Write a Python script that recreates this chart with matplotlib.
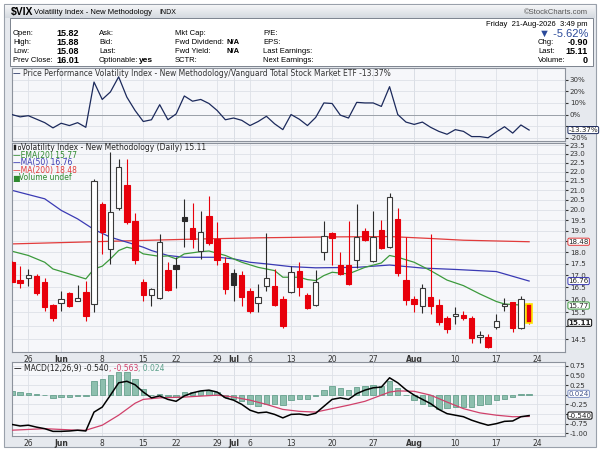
import numpy as np
import matplotlib
matplotlib.use('Agg')
import matplotlib.pyplot as plt
from matplotlib.patches import Rectangle
from matplotlib.ticker import FixedLocator, NullLocator, FuncFormatter
from matplotlib.colors import LinearSegmentedColormap

# trading-day index: 0 = Tue 26-May-2026, 61 = Fri 21-Aug-2026
day = np.arange(-2, 62)

opens = [17.56, 16.82, 16.90, 16.99, 16.74, 15.79, 15.86, 16.26, 15.96, 16.30,
         15.83, 20.31, 18.15, 20.09, 21.26, 19.48, 16.74, 16.17, 16.06, 17.23,
         17.46, 19.64, 19.13, 18.08, 19.69, 18.61, 17.53, 17.10, 17.03, 16.37,
         15.86, 16.54, 16.57, 16.03, 16.30, 17.20, 16.17, 15.80, 18.00, 18.89,
         17.46, 17.42, 17.64, 18.96, 17.61, 19.05, 18.23, 19.56, 16.82, 16.03,
         15.74, 16.12, 15.80, 15.27, 15.38, 15.40, 15.27, 14.60, 14.60, 14.96,
         15.76, 15.90, 14.90, 15.82]
highs = [17.62, 17.39, 17.26, 17.04, 16.87, 15.83, 16.33, 16.30, 16.60, 16.78,
         21.58, 20.39, 23.09, 22.71, 22.71, 19.86, 16.85, 16.46, 18.85, 17.56,
         17.78, 20.53, 20.34, 19.94, 20.73, 19.40, 17.78, 17.27, 17.20, 16.47,
         16.64, 18.89, 17.27, 16.14, 17.39, 17.56, 16.27, 17.23, 19.48, 18.93,
         18.00, 19.48, 20.30, 19.11, 19.94, 19.53, 20.87, 20.11, 18.69, 16.14,
         16.64, 18.85, 16.03, 15.38, 15.73, 15.57, 15.38, 14.81, 14.69, 15.46,
         16.07, 15.92, 16.14, 15.88]
lows = [16.70, 16.47, 16.54, 16.18, 15.57, 15.16, 15.54, 15.70, 15.93, 15.16,
        15.53, 17.93, 17.49, 20.00, 19.32, 17.49, 15.93, 15.77, 16.03, 16.34,
        16.46, 18.23, 18.19, 17.71, 18.33, 17.44, 16.23, 15.96, 15.76, 15.47,
        15.50, 16.34, 15.74, 14.91, 16.26, 16.14, 15.62, 15.76, 17.68, 17.42,
        17.00, 16.58, 17.32, 18.50, 17.56, 18.15, 18.19, 16.99, 15.80, 15.50,
        15.48, 15.44, 15.02, 14.73, 15.06, 15.22, 14.37, 14.37, 14.18, 14.88,
        15.57, 14.78, 14.86, 15.08]
closes = [16.74, 16.68, 17.01, 16.27, 15.73, 15.29, 16.03, 15.74, 16.07, 15.38,
          21.47, 18.93, 19.89, 22.23, 19.40, 17.66, 16.17, 16.43, 18.46, 16.39,
          17.25, 19.48, 18.61, 18.93, 18.43, 17.66, 16.43, 16.60, 16.12, 15.54,
          16.12, 16.89, 15.80, 15.00, 17.13, 16.50, 15.67, 16.71, 18.74, 18.64,
          17.06, 16.64, 18.69, 18.56, 18.69, 18.19, 20.65, 17.09, 16.00, 15.83,
          16.47, 15.76, 15.12, 14.88, 15.44, 15.27, 14.53, 14.65, 14.23, 15.16,
          15.83, 14.90, 16.01, 15.11]
close_before = 17.35

tick_days = [0, 4, 9, 14, 18, 23, 25, 27, 32, 37, 42, 47, 52, 57, 62]
tick_labels = ['26', 'Jun', '8', '15', '22', '29', 'Jul', '6', '13', '20', '27',
               'Aug', '10', '17', '24']
months = ['Jun', 'Jul', 'Aug']

# price performance vs VTI, %
perf = [0, -2, -1, -4, -7, -11.5, -7.5, -9.5, -7, -11,
        28, 13, 19.5, 32.5, 15, 3.5, -6, -4.5, 8.5, -4.5,
        0.5, 16, 11.5, 13, 9.5, 3.5, -4.5, -3, -5, -9.5,
        -6, -1.5, -8, -13, 0, -4, -9.5, -2.5, 10, 9.5,
        -0.5, -3, 10.5, 10, 10, 7, 24, 0, -6.5, -8.5,
        -6.5, -11, -14.5, -17, -13, -14.5, -19, -19, -20, -15,
        -10.5, -16, -9, -13.37]

ema20_day = [-2, 0, 2, 3, 5, 7, 8, 9, 10, 11, 12, 13, 14, 16, 17, 18, 19, 21, 22,
             24, 26, 28, 30, 31, 33, 34, 35, 36, 37, 39, 41, 43, 44, 45, 47, 49,
             51, 53, 55, 57, 58, 61]
ema20 = [18.05, 17.86, 17.56, 17.27, 17.06, 16.85, 17.27, 17.39, 17.71, 18.08,
         18.23, 18.15, 17.93, 17.82, 17.84, 17.71, 17.93, 18.03, 18.06, 17.86,
         17.56, 17.34, 17.20, 16.92, 16.92, 16.82, 16.78, 16.99, 17.13, 17.06,
         17.34, 17.53, 17.86, 17.78, 17.56, 17.20, 16.80, 16.57, 16.23, 15.93,
         15.83, 15.77]
ma50_day = [-2, 2, 4, 6, 8, 10, 12, 14, 15, 17, 19, 23, 25, 27, 29, 32, 35, 40,
            44, 48, 52, 57, 61]
ma50 = [21.0, 20.56, 19.98, 19.56, 19.05, 18.69, 18.46, 18.23, 18.08, 17.86,
        17.78, 17.78, 17.71, 17.56, 17.49, 17.37, 17.32, 17.34, 17.44, 17.31,
        17.25, 17.16, 16.76]
ma200_day = [-2, 5, 12, 20, 28, 36, 44, 49, 53, 61]
ma200 = [18.38, 18.45, 18.52, 18.60, 18.66, 18.70, 18.72, 18.63, 18.55, 18.48]

macd = [-0.77, -0.81, -0.79, -0.84, -0.88, -0.95, -0.95, -0.94, -0.92, -0.94,
        -0.45, -0.32, -0.01, 0.31, 0.35, 0.26, 0.07, -0.08, -0.03, -0.12,
        -0.17, -0.03, 0.05, 0.10, 0.12, 0.07, -0.08, -0.14, -0.25, -0.40,
        -0.47, -0.45, -0.51, -0.60, -0.51, -0.50, -0.53, -0.48, -0.30, -0.12,
        -0.08, -0.12, 0.03, 0.12, 0.18, 0.20, 0.44, 0.31, 0.13, -0.01,
        -0.12, -0.23, -0.38, -0.49, -0.53, -0.57, -0.66, -0.73, -0.79, -0.75,
        -0.69, -0.68, -0.57, -0.54]
signal_day = [-2, 0, 2, 4, 6, 7, 9, 11, 13, 14, 16, 19, 23, 25, 27, 29, 31, 33,
              35, 37, 39, 41, 43, 44, 45, 47, 49, 51, 53, 55, 57, 59, 61]
signal = [-0.92, -0.90, -0.88, -0.90, -0.92, -0.92, -0.79, -0.53, -0.22, -0.12,
          -0.08, -0.06, -0.01, -0.06, -0.14, -0.25, -0.38, -0.43, -0.45, -0.36,
          -0.27, -0.17, -0.01, 0.07, 0.10, 0.09, -0.01, -0.19, -0.36, -0.47,
          -0.53, -0.57, -0.563]
hist = [0.10, 0.07, 0.05, 0.02, -0.01, -0.08, -0.07, -0.06, -0.04, -0.03,
        0.36, 0.42, 0.50, 0.59, 0.59, 0.40, 0.16, -0.01, 0.03, -0.04,
        -0.06, 0.06, 0.07, 0.09, 0.10, 0.06, -0.06, -0.10, -0.17, -0.25,
        -0.29, -0.23, -0.23, -0.27, -0.14, -0.11, -0.12, -0.04, 0.13, 0.23,
        0.18, 0.13, 0.20, 0.23, 0.25, 0.23, 0.35, 0.18, -0.01, -0.14,
        -0.23, -0.30, -0.36, -0.34, -0.32, -0.32, -0.32, -0.27, -0.25, -0.14,
        -0.10, -0.07, 0.01, 0.024]

quote_left = [('Open:', '15.82'), ('High:', '15.88'), ('Low:', '15.08'), ('Prev Close:', '16.01')]
quote_mid1 = [('Ask:', ''), ('Bid:', ''), ('Last:', ''), ('Optionable:', 'yes')]
quote_mid2 = [('Mkt Cap:', ''), ('Fwd Dividend:', 'N/A'), ('Fwd Yield:', 'N/A'), ('SCTR:', '')]
quote_mid3 = ['P/E:', 'EPS:', 'Last Earnings:', 'Next Earnings:']
quote_right = [('Chg:', '-0.90'), ('Last:', '15.11'), ('Volume:', '0')]

W, H = 600, 450
def fx(x):
    return x / W
def fy(y):
    return 1 - y / H

RED = '#e8000b'
BLK = '#2a2a2a'
GRID = '#dde1e7'
BW = 0.66
XLIM = (-1.99, 65.37)
HF = ['Liberation Sans', 'DejaVu Sans']
FS = 5.5
YFS = 5.1

fig = plt.figure(figsize=(6, 4.5), dpi=100)
fig.patch.set_facecolor('white')
fig.patches.append(Rectangle((fx(4), fy(447)), 592 / W, 443 / H, transform=fig.transFigure,
                             fc='#e6e9ee', ec='#9aa1ab', lw=0.8, zorder=-5))

# header
hdr = fig.add_axes([fx(5), fy(18), 590 / W, 13 / H])
hdr.imshow(np.linspace(0, 1, 20).reshape(-1, 1), aspect='auto', extent=[0, 1, 0, 1],
           cmap=LinearSegmentedColormap.from_list('h', ['#f4f5f7', '#d5dae0']))
hdr.axis('off')
fig.patches.append(Rectangle((fx(10), fy(66)), 583 / W, 48 / H, transform=fig.transFigure,
                             fc='white', ec='#7c838e', lw=0.7, zorder=1))
fig.text(fx(11), fy(12), '$VIX', fontsize=7.5, fontweight='bold', family=HF, va='center')
fig.text(fx(34), fy(12.5), 'Volatility Index - New Methodology', fontsize=5.5, family=HF, va='center')
fig.text(fx(159), fy(12.5), 'INDX', fontsize=5, family=HF, va='center')
fig.text(fx(588), fy(12.5), '\u00a9StockCharts.com', fontsize=5.5, family=HF, va='center',
         ha='right', color='#555555')
fig.text(fx(588), fy(24), 'Friday  21-Aug-2026  3:49 pm', fontsize=5.5, family=HF,
         va='center', ha='right')
rows = [33.5, 42.5, 51.5, 60.5]
for r, (lab, val) in zip(rows, quote_left):
    fig.text(fx(13), fy(r), lab, fontsize=5.5, family=HF, va='center')
    fig.text(fx(79), fy(r), val, fontsize=6.5, family=HF, va='center', ha='right', fontweight='bold')
for r, (lab, val) in zip(rows, quote_mid1):
    fig.text(fx(99), fy(r), lab, fontsize=5.5, family=HF, va='center')
    fig.text(fx(139), fy(r), val, fontsize=6, family=HF, va='center', fontweight='bold')
for r, (lab, val) in zip(rows, quote_mid2):
    fig.text(fx(175), fy(r), lab, fontsize=5.5, family=HF, va='center')
    fig.text(fx(240), fy(r), val, fontsize=5.5, family=HF, va='center', ha='right', fontweight='bold')
for r, lab in zip(rows, quote_mid3):
    fig.text(fx(263), fy(r), lab, fontsize=5.5, family=HF, va='center')
fig.text(fx(588), fy(33.5), '\u25bc -5.62%', fontsize=8, family=HF, va='center', ha='right',
         color='#2b4a9a')
for r, (lab, val) in zip(rows[1:], quote_right):
    fig.text(fx(538), fy(r), lab, fontsize=5.5, family=HF, va='center')
    fig.text(fx(588), fy(r), val, fontsize=6.5, family=HF, va='center', ha='right', fontweight='bold')

# panels
ax1 = fig.add_axes([fx(12), fy(141), 553 / W, 73 / H])
ax2 = fig.add_axes([fx(12), fy(352), 553 / W, 209 / H])
ax3 = fig.add_axes([fx(12), fy(436), 553 / W, 74 / H])

for ax in (ax1, ax2, ax3):
    ax.set_zorder(3)
    ax.set_facecolor('#f6f7fa')
    ax.set_xlim(*XLIM)
    ax.set_xticks(tick_days)
    ax.grid(True, color=GRID, lw=0.6, zorder=0)
    ax.set_axisbelow(True)
    for s in ax.spines.values():
        s.set_color('#8c929c')
        s.set_linewidth(0.8)
    ax.tick_params(axis='y', left=False, labelleft=False, right=True, labelright=True,
                   length=2, pad=1.5, labelsize=YFS, colors='#333333')
    ax.tick_params(axis='x', length=0, pad=2, labelsize=FS, colors='#333333')
    for d, lab in zip(tick_days, tick_labels):
        if lab in months:
            ax.axvline(d, color='#c9ced6', lw=0.6, zorder=0)


def hide_near(hidden, fmt):
    # labels that sit under a value box are left blank, as on the reference
    return FuncFormatter(lambda v, p: '' if any(abs(v - h) < 1e-6 for h in hidden) else fmt % v)


# performance panel
ax1.plot(day, perf, color='#1c2a5c', lw=0.9, zorder=3)
ax1.axhline(0, color='#9aa0a8', lw=0.7, zorder=1)
ax1.set_ylim(-22.8, 40.1)
ax1.yaxis.set_major_locator(FixedLocator([-20, -10, 0, 10, 20, 30]))
ax1.yaxis.set_major_formatter(hide_near([-10], '%d%%'))
ax1.set_xticklabels([])
for t in ax1.get_yticklabels():
    t.set_verticalalignment('center_baseline')

# price panel
prev = [close_before] + closes[:-1]
for d, o, h, l, c, p in zip(day, opens, highs, lows, closes, prev):
    col = BLK if c >= p else RED
    hollow = c > o
    ax2.vlines(d, l, h, color=col, lw=0.8, zorder=3)
    edge = '#ffe400' if d == day[-1] else ('#3a3a3a' if hollow and col == BLK else col)
    ax2.add_patch(Rectangle((d - BW / 2, min(o, c)), BW, abs(c - o),
                            fc='white' if hollow else col, ec=edge,
                            lw=1.2 if d == day[-1] else 0.8, zorder=4))
ax2.plot(ma200_day, ma200, color='#e23b3b', lw=0.9, zorder=2)
ax2.plot(ma50_day, ma50, color='#3a3ab4', lw=0.9, zorder=2)
ax2.plot(ema20_day, ema20, color='#3c9a3c', lw=0.9, zorder=2)
ax2.set_yscale('log')
ax2.set_ylim(14.05, 23.62)
ax2.yaxis.set_major_locator(FixedLocator(np.arange(14.5, 23.6, 0.5)))
ax2.yaxis.set_minor_locator(NullLocator())
ax2.yaxis.set_major_formatter(hide_near([18.5, 15.0], '%.1f'))
ax2.set_xticklabels(tick_labels)

# macd panel
ax3.bar(day, hist, width=BW, color='#8dbfae', edgecolor='#67a08d', lw=0.6, zorder=2)
ax3.plot(signal_day, signal, color='#d0406a', lw=0.9, zorder=3)
ax3.plot(day, macd, color='black', lw=1.1, zorder=4)
ax3.set_ylim(-1.07, 0.85)
ax3.yaxis.set_major_locator(FixedLocator(np.arange(-1.0, 0.8, 0.25)))
ax3.yaxis.set_major_formatter(hide_near([0.0, -0.5], '%.2f'))
ax3.set_xticklabels(tick_labels)

for ax in (ax2, ax3):
    for t in ax.get_xticklabels():
        if t.get_text() in months:
            t.set_fontweight('bold')


def value_box(ax, y, text, edge, color='#222222', bold=False):
    ax.annotate(text, xy=(1, y), xycoords=('axes fraction', 'data'), xytext=(2.5, 0),
                textcoords='offset points', ha='left', va='center', fontsize=YFS,
                color=color, fontweight='bold' if bold else 'normal',
                bbox=dict(boxstyle='round,pad=0.08,rounding_size=0.2', fc='white', ec=edge, lw=0.7),
                annotation_clip=False, zorder=10)


value_box(ax1, perf[-1], '%.2f%%' % perf[-1], '#1c2a5c')
value_box(ax2, ma200[-1], '%.2f' % ma200[-1], '#e23b3b')
value_box(ax2, ma50[-1], '%.2f' % ma50[-1], '#3a3ab4')
value_box(ax2, ema20[-1], '%.2f' % ema20[-1], '#3c9a3c')
value_box(ax2, closes[-1], '%.2f' % closes[-1], 'black', bold=True)
value_box(ax3, hist[-1], '%.3f' % hist[-1], '#7d8fc4', color='#44548a')
value_box(ax3, macd[-1], '%.3f' % macd[-1], 'black')

# legends
renderer = fig.canvas.get_renderer()


def text_run(x, y, parts, size=FS):
    for s, c in parts:
        t = fig.text(fx(x), fy(y), s, fontsize=size, color=c, va='center', zorder=12)
        x += t.get_window_extent(renderer).width


text_run(13, 74, [('\u2014 ', '#1c2a5c'), ('Price Performance Volatility Index - New Methodology/'
                                           'Vanguard Total Stock Market ETF %.2f%%' % perf[-1], '#333333')])
# small candle icon
fig.patches.append(Rectangle((fx(14), fy(150)), 2 / W, 5 / H, transform=fig.transFigure,
                             fc='#222222', ec='#222222', lw=0.3, zorder=12))
fig.patches.append(Rectangle((fx(17.5), fy(149)), 2 / W, 3 / H, transform=fig.transFigure,
                             fc='white', ec='#222222', lw=0.5, zorder=12))
text_run(21, 147.5, [('Volatility Index - New Methodology (Daily) %.2f' % closes[-1], '#222222')])
text_run(13, 155.5, [('\u2014EMA(20) %.2f' % ema20[-1], '#2f8a2f')])
text_run(13, 163, [('\u2014MA(50) %.2f' % ma50[-1], '#3a3ab4')])
text_run(13, 170.5, [('\u2014MA(200) %.2f' % ma200[-1], '#e23b3b')])
text_run(13, 178, [('\u2586Volume undef', '#2f8a2f')])
text_run(14, 368.5, [('\u2014 ', 'black'), ('MACD(12,26,9) %.3f' % macd[-1], '#222222'),
                     (', %.3f' % signal[-1], '#d0406a'), (', %.3f' % hist[-1], '#5aa08a')])

fig.savefig('out.png', dpi=100, facecolor=fig.get_facecolor())
